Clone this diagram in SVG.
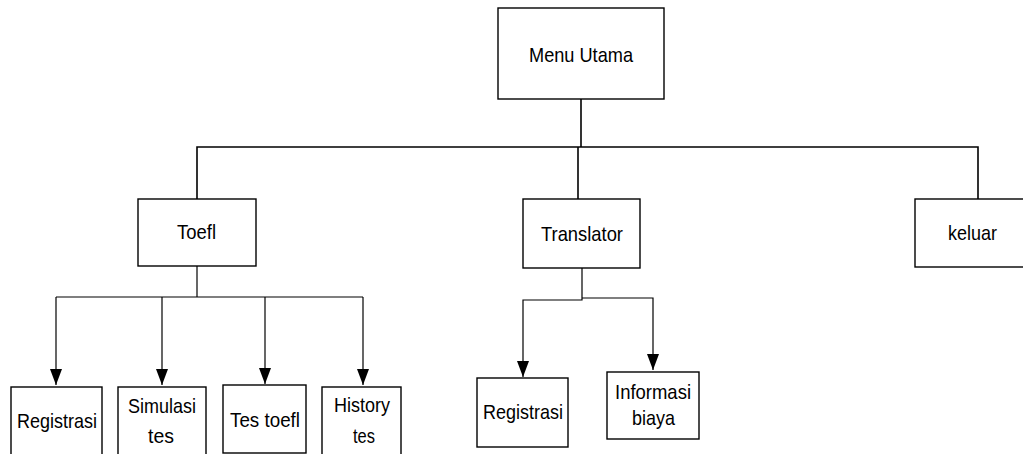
<svg xmlns="http://www.w3.org/2000/svg" width="1023" height="454" viewBox="0 0 1023 454">
<style>
.box{fill:#fff;stroke:#000;stroke-width:1.4}
.ln{fill:none;stroke:#000;stroke-width:1.6}
.ar{fill:none;stroke:#000;stroke-width:1.2}
text{font-family:"Liberation Sans",Arial,sans-serif;font-size:21px;fill:#000}
</style>
<defs>
<marker id="ah" markerWidth="16" markerHeight="12" refX="16" refY="6" orient="auto" markerUnits="userSpaceOnUse" viewBox="0 0 16 12">
<path d="M0,0 L16,6 L0,12 Z" fill="#000"/>
</marker>
</defs>
<g id="connectors">
<polyline class="ln" points="581,99 581,147"/>
<polyline class="ln" points="197,199 197,147 978,147 978,199"/>
<polyline class="ln" points="578,147 578,199"/>
<polyline class="ar" points="197,255 197,297"/>
<polyline class="ar" points="56,297 363,297"/>
<polyline class="ar" points="56,297 56,385" marker-end="url(#ah)"/>
<polyline class="ar" points="162,297 162,385" marker-end="url(#ah)"/>
<polyline class="ar" points="265,297 265,384" marker-end="url(#ah)"/>
<polyline class="ar" points="363,297 363,385" marker-end="url(#ah)"/>
<polyline class="ar" points="582,268 582,300 523,300 523,377" marker-end="url(#ah)"/>
<polyline class="ar" points="582,298 653,298 653,370" marker-end="url(#ah)"/>
</g>
<g id="menu-utama"><rect class="box" x="498" y="8" width="166" height="91"/><text x="529" y="62" textLength="104" lengthAdjust="spacingAndGlyphs">Menu Utama</text></g>
<g id="toefl"><rect class="box" x="138" y="199" width="118" height="67"/><text x="177" y="239" textLength="39" lengthAdjust="spacingAndGlyphs">Toefl</text></g>
<g id="translator"><rect class="box" x="523" y="199" width="117" height="69"/><text x="541" y="241" textLength="82" lengthAdjust="spacingAndGlyphs">Translator</text></g>
<g id="keluar"><rect class="box" x="915" y="199" width="120" height="68"/><text x="948" y="240" textLength="49" lengthAdjust="spacingAndGlyphs">keluar</text></g>
<g id="registrasi-toefl"><rect class="box" x="11" y="387" width="91" height="70"/><text x="17" y="428" textLength="80" lengthAdjust="spacingAndGlyphs">Registrasi</text></g>
<g id="simulasi-tes"><rect class="box" x="118" y="387" width="88" height="70"/><text x="128" y="413" textLength="68" lengthAdjust="spacingAndGlyphs">Simulasi</text><text x="148" y="443" textLength="26" lengthAdjust="spacingAndGlyphs">tes</text></g>
<g id="tes-toefl"><rect class="box" x="223" y="385" width="83" height="68"/><text x="230" y="427" textLength="70" lengthAdjust="spacingAndGlyphs">Tes toefl</text></g>
<g id="history-tes"><rect class="box" x="322" y="387" width="79" height="70"/><text x="334" y="412" textLength="56" lengthAdjust="spacingAndGlyphs">History</text><text x="353" y="443" textLength="22" lengthAdjust="spacingAndGlyphs">tes</text></g>
<g id="registrasi-translator"><rect class="box" x="477" y="378" width="91" height="69"/><text x="483" y="419" textLength="80" lengthAdjust="spacingAndGlyphs">Registrasi</text></g>
<g id="informasi-biaya"><rect class="box" x="607" y="372" width="92" height="67"/><text x="615" y="399" textLength="76" lengthAdjust="spacingAndGlyphs">Informasi</text><text x="632" y="425" textLength="43" lengthAdjust="spacingAndGlyphs">biaya</text></g>
</svg>
